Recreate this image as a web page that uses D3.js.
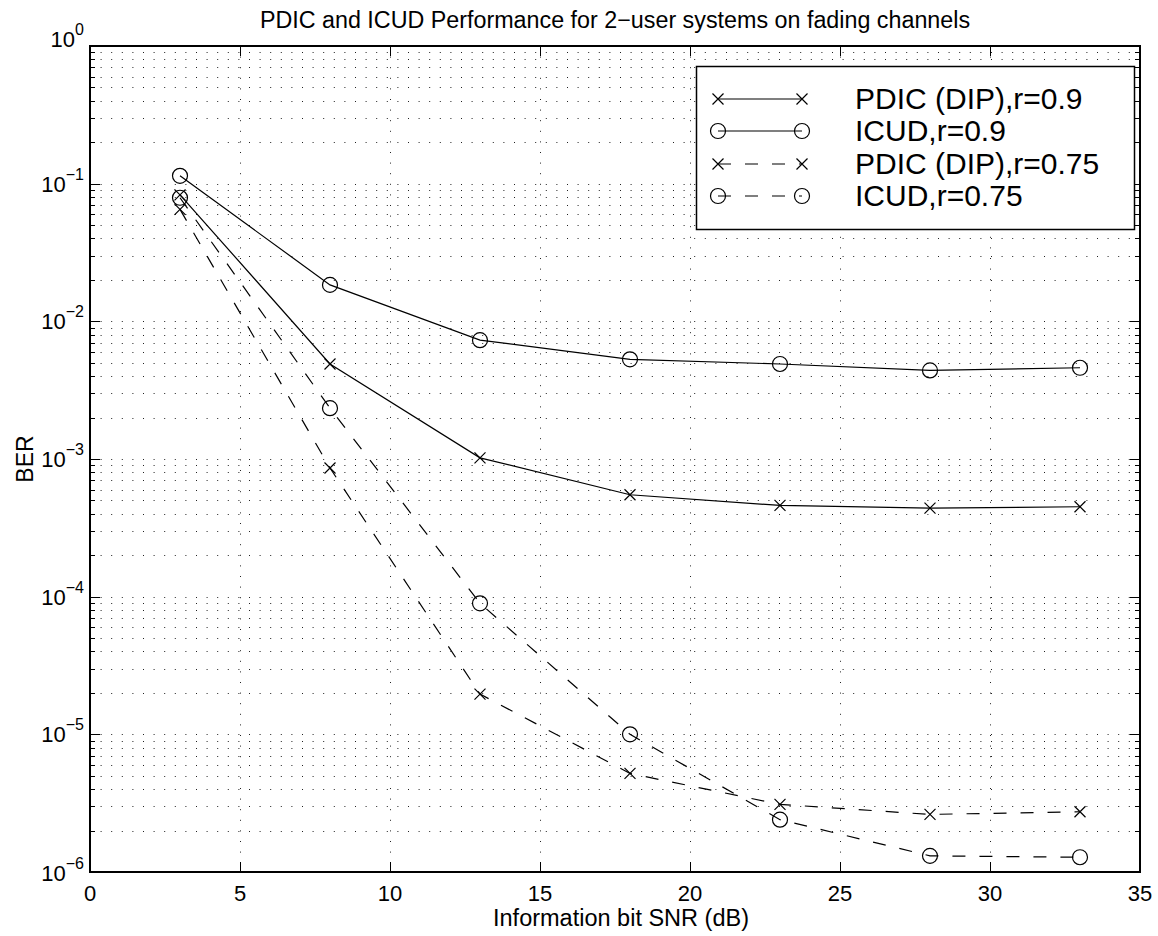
<!DOCTYPE html>
<html>
<head>
<meta charset="utf-8">
<script src="https://cdn.jsdelivr.net/npm/d3@7"></script>
<style>
  html, body { margin: 0; padding: 0; background: #fff; }
  svg { display: block; }
  text { font-family: "Liberation Sans", Arial, Helvetica, sans-serif; fill: #000; }
</style>
</head>
<body>
<svg id="chart" width="1158" height="936"></svg>
<script>
// ---------- data ----------
const snr = [3, 8, 13, 18, 23, 28, 33];
const pdic09  = [0.083, 0.0049, 0.00102, 0.00055, 0.00046, 0.00044, 0.00045];
const icud09  = [0.114, 0.0184, 0.0073, 0.0053, 0.0049, 0.0044, 0.0046];
const pdic075 = [0.065, 0.00086, 1.96e-5, 5.2e-6, 3.1e-6, 2.62e-6, 2.74e-6];
const icud075 = [0.079, 0.00234, 8.95e-5, 1.0e-5, 2.4e-6, 1.31e-6, 1.28e-6];
const seriesNames = ["PDIC (DIP),r=0.9", "ICUD,r=0.9", "PDIC (DIP),r=0.75", "ICUD,r=0.75"];
const xTicks = [0, 5, 10, 15, 20, 25, 30, 35];
const yExponents = [0, -1, -2, -3, -4, -5, -6];
const titleText = "PDIC and ICUD Performance for 2\u2212user systems on fading channels";
const xLabel = "Information bit SNR (dB)";
const yLabel = "BER";

// ---------- layout ----------
const L = 90, R = 1140, T = 46, B = 872;
const svg = d3.select("#chart");
const x = d3.scaleLinear().domain([0, 35]).range([L, R]);
const y = d3.scaleLog().domain([1e-6, 1]).range([B, T]);

// minor log values
const minorVals = [];
for (let e = -6; e < 0; e++) for (let m = 1; m <= 9; m++) minorVals.push(m * Math.pow(10, e));
minorVals.push(1);

// ---------- grid ----------
const grid = svg.append("g");
grid.selectAll("line.h").data(minorVals.filter(v => v > 1e-6 && v < 1)).enter().append("line")
  .attr("x1", L).attr("x2", R)
  .attr("y1", d => Math.round(y(d)) + 0.5).attr("y2", d => Math.round(y(d)) + 0.5)
  .attr("stroke", "#222").attr("stroke-width", 1).attr("stroke-dasharray", "1,9.6");
grid.selectAll("line.v").data(xTicks.filter(v => v > 0 && v < 35)).enter().append("line")
  .attr("x1", d => Math.round(x(d)) + 0.5).attr("x2", d => Math.round(x(d)) + 0.5)
  .attr("y1", T).attr("y2", B)
  .attr("stroke", "#222").attr("stroke-width", 1).attr("stroke-dasharray", "1,9.6");

// ---------- ticks ----------
const ticks = svg.append("g").attr("stroke", "#000").attr("stroke-width", 1);
xTicks.forEach(v => {
  const px = Math.round(x(v)) + 0.5;
  ticks.append("line").attr("x1", px).attr("x2", px).attr("y1", B).attr("y2", B - 10);
  ticks.append("line").attr("x1", px).attr("x2", px).attr("y1", T).attr("y2", T + 10);
});
minorVals.forEach(v => {
  const py = Math.round(y(v)) + 0.5;
  const major = Math.abs(Math.log10(v) - Math.round(Math.log10(v))) < 1e-9;
  const len = major ? 10 : 5;
  ticks.append("line").attr("x1", L).attr("x2", L + len).attr("y1", py).attr("y2", py);
  ticks.append("line").attr("x1", R).attr("x2", R - len).attr("y1", py).attr("y2", py);
});

// axes box
svg.append("rect").attr("x", L).attr("y", T).attr("width", R - L).attr("height", B - T)
  .attr("fill", "none").attr("stroke", "#000").attr("stroke-width", 2);

// x tick labels
svg.append("g").selectAll("text").data(xTicks).enter().append("text")
  .attr("x", d => x(d)).attr("y", B + 29).attr("text-anchor", "middle")
  .attr("font-size", 22).text(d => d);

// y tick labels
const yl = svg.append("g");
yExponents.forEach(e => {
  const py = y(Math.pow(10, e));
  const off = e === 0 ? 1 : (e === -6 ? 9 : 8);
  const t = yl.append("text").attr("x", 84).attr("y", py + off).attr("text-anchor", "end");
  t.append("tspan").attr("font-size", 22).text("10");
  t.append("tspan").attr("font-size", 16).attr("dy", -12).text(e === 0 ? "0" : "\u2212" + (-e));
});

// titles
svg.append("text").attr("x", (L + R) / 2).attr("y", 28).attr("text-anchor", "middle")
  .attr("font-size", 23.3).text(titleText);
svg.append("text").attr("x", (L + R) / 2 + 6).attr("y", 926).attr("text-anchor", "middle")
  .attr("font-size", 23.5).text(xLabel);
svg.append("text").attr("transform", `translate(33,${(T + B) / 2}) rotate(-90)`)
  .attr("text-anchor", "middle").attr("font-size", 23).text(yLabel);

// ---------- series ----------
const series = [
  { vals: pdic09,  dash: null,    marker: "x" },
  { vals: icud09,  dash: null,    marker: "o" },
  { vals: pdic075, dash: "13,14", marker: "x" },
  { vals: icud075, dash: "13,14", marker: "o" }
];
const line = d3.line().x(d => x(d[0])).y(d => y(d[1]));
const plot = svg.append("g");

function drawMarker(g, type, cx, cy) {
  if (type === "o") {
    g.append("circle").attr("cx", cx).attr("cy", cy).attr("r", 7.5)
      .attr("fill", "none").attr("stroke", "#000").attr("stroke-width", 1.2);
  } else {
    const s = 5.5;
    g.append("path").attr("d", `M${cx - s},${cy - s}L${cx + s},${cy + s}M${cx - s},${cy + s}L${cx + s},${cy - s}`)
      .attr("fill", "none").attr("stroke", "#000").attr("stroke-width", 1.2);
  }
}

series.forEach(s => {
  const pts = snr.map((v, i) => [v, s.vals[i]]);
  plot.append("path").attr("d", line(pts)).attr("fill", "none").attr("stroke", "#000")
    .attr("stroke-width", 1.2).attr("stroke-dasharray", s.dash);
  pts.forEach(p => drawMarker(plot, s.marker, x(p[0]), y(p[1])));
});

// ---------- legend ----------
const lg = svg.append("g");
lg.append("rect").attr("x", 696.5).attr("y", 66.5).attr("width", 438).attr("height", 163)
  .attr("fill", "#fff").attr("stroke", "#000").attr("stroke-width", 1.5);
const rowY = [99, 131, 164, 196];
series.forEach((s, i) => {
  const yy = rowY[i];
  lg.append("line").attr("x1", 718).attr("x2", 802).attr("y1", yy).attr("y2", yy)
    .attr("stroke", "#000").attr("stroke-width", 1.2).attr("stroke-dasharray", s.dash);
  drawMarker(lg, s.marker, 718, yy);
  drawMarker(lg, s.marker, 802, yy);
  lg.append("text").attr("x", 855).attr("y", yy + 10).attr("font-size", 30).text(seriesNames[i]);
});
</script>
</body>
</html>
